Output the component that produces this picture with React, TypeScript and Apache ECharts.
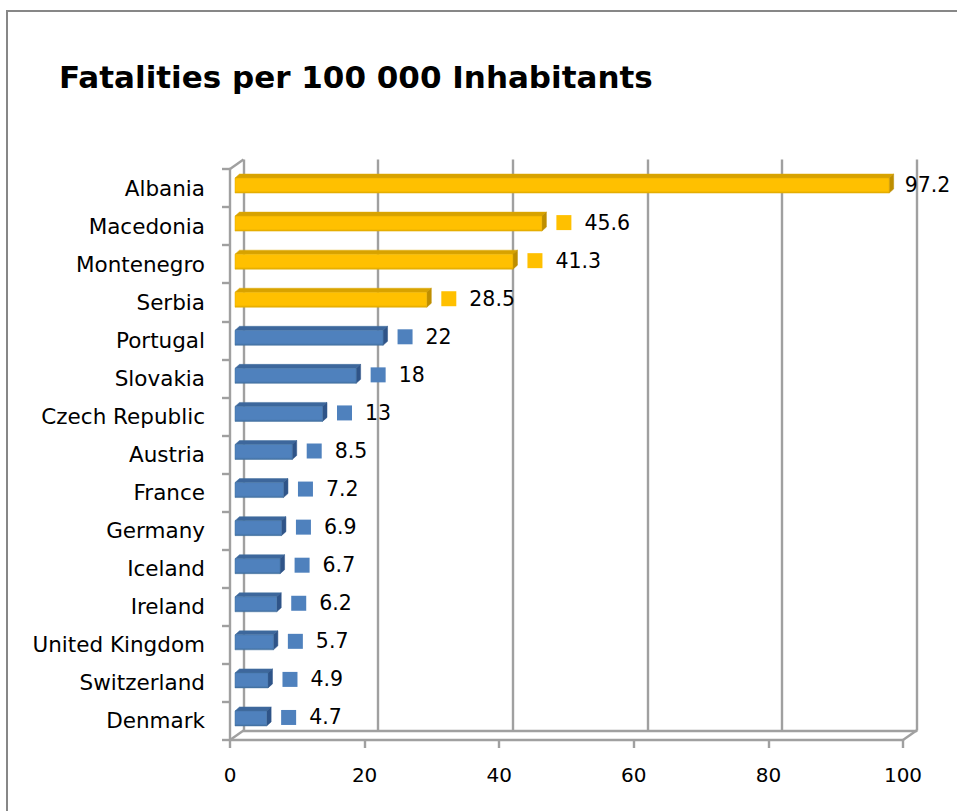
import React, { useEffect, useRef } from "react";
import * as echarts from "echarts";

// Road fatalities per 100 000 inhabitants, top to bottom
const countries = [
  "Albania",
  "Macedonia",
  "Montenegro",
  "Serbia",
  "Portugal",
  "Slovakia",
  "Czech Republic",
  "Austria",
  "France",
  "Germany",
  "Iceland",
  "Ireland",
  "United Kingdom",
  "Switzerland",
  "Denmark",
];
const fatalities = [97.2, 45.6, 41.3, 28.5, 22, 18, 13, 8.5, 7.2, 6.9, 6.7, 6.2, 5.7, 4.9, 4.7];
const regionOf = [
  "balkan", "balkan", "balkan", "balkan",
  "other", "other", "other", "other", "other", "other", "other", "other", "other", "other", "other",
];
const axisTicks = [0, 20, 40, 60, 80, 100];

const WIDTH = 957;
const HEIGHT = 811;
const FONT = "DejaVu Sans";

// front plane of the 3D plot area
const FRONT = { left: 230, right: 903, top: 169, bottom: 740 };
// depth of the walls (back plane offset)
const DEPTH_X = 13.5;
const DEPTH_Y = -9.5;
const LINE = "#A0A0A0";
const LINE_W = 2.4;

const palette: Record<string, { front: string; top: string; side: string; edge: string }> = {
  balkan: { front: "#FFC000", top: "#D7A200", side: "#BE8E00", edge: "#E0AA00" },
  other: { front: "#4F81BD", top: "#3D679C", side: "#2F5488", edge: "#42709F" },
};

export default function App() {
  const ref = useRef<HTMLDivElement>(null);

  useEffect(() => {
    if (!ref.current) return;
    const chart = echarts.init(ref.current, null, { renderer: "svg" });

    const data = fatalities.map((v, i) => [v, i, regionOf[i] === "balkan" ? 0 : 1]);

    const renderBar = (params: any, api: any) => {
      const v = api.value(0);
      const idx = api.value(1);
      const key = api.value(2) === 0 ? "balkan" : "other";
      const col = palette[key];
      const p0 = api.coord([0, idx]);
      const p1 = api.coord([v, idx]);
      // bars sit midway into the depth of the plot
      const sx = 5;
      const sy = -3.5;
      const h = 15;
      const dx = 4.5;
      const dy = 4;
      const x0 = p0[0] + sx;
      const x1 = p1[0] + sx;
      const cy = p0[1] + sy;
      const top = cy - h / 2 + 1;
      const bottom = cy + h / 2 + 1;
      const sideEnd = x1 + dx;

      const fontSize = 20.5;
      const label = String(v);
      const labelW = label.length * 0.6 * fontSize;
      const keySize = 15;
      const keyX = sideEnd + 10;
      const textWithKey = keyX + keySize + 13;
      const showKey = textWithKey + labelW <= WIDTH;
      const textX = showKey ? textWithKey : sideEnd + 11;

      const children: any[] = [
        {
          type: "polygon",
          shape: { points: [[x0, top], [x0 + dx, top - dy], [x1 + dx, top - dy], [x1, top]] },
          style: { fill: col.top, stroke: col.edge, lineWidth: 0.5 },
        },
        {
          type: "polygon",
          shape: { points: [[x1, top], [x1 + dx, top - dy], [x1 + dx, bottom - dy], [x1, bottom]] },
          style: { fill: col.side, stroke: col.side, lineWidth: 0.5 },
        },
        {
          type: "rect",
          shape: { x: x0, y: top, width: x1 - x0, height: h },
          style: {
            fill: new echarts.graphic.LinearGradient(0, 0, 0, 1, [
              { offset: 0, color: col.front },
              { offset: 0.85, color: col.front },
              { offset: 1, color: col.edge },
            ]),
            stroke: col.edge,
            lineWidth: 0.5,
          },
        },
        {
          type: "text",
          style: {
            text: label,
            x: textX,
            y: cy,
            verticalAlign: "middle",
            align: "left",
            fontFamily: FONT,
            fontSize,
            fill: "#000",
          },
        },
      ];
      if (showKey) {
        children.push({
          type: "rect",
          shape: { x: keyX, y: cy - keySize / 2, width: keySize, height: keySize },
          style: { fill: col.front },
        });
      }
      return { type: "group", children };
    };

    const backLeft = FRONT.left + DEPTH_X;
    const backRight = FRONT.right + DEPTH_X;
    const backTop = FRONT.top + DEPTH_Y;
    const backBottom = FRONT.bottom + DEPTH_Y;

    chart.setOption({
      animation: false,
      backgroundColor: "#fff",
      grid: [
        {
          left: FRONT.left,
          right: WIDTH - FRONT.right,
          top: FRONT.top,
          bottom: HEIGHT - FRONT.bottom,
        },
        {
          left: backLeft,
          right: WIDTH - backRight,
          top: backTop,
          bottom: HEIGHT - backBottom,
        },
      ],
      xAxis: [
        {
          type: "value",
          gridIndex: 0,
          min: axisTicks[0],
          max: axisTicks[axisTicks.length - 1],
          interval: axisTicks[1] - axisTicks[0],
          axisLine: { show: true, lineStyle: { color: LINE, width: LINE_W } },
          axisTick: { show: true, length: 8, lineStyle: { color: LINE, width: LINE_W } },
          splitLine: { show: false },
          axisLabel: { fontFamily: FONT, fontSize: 20, color: "#000", margin: 25 },
        },
        {
          type: "value",
          gridIndex: 1,
          min: axisTicks[0],
          max: axisTicks[axisTicks.length - 1],
          interval: axisTicks[1] - axisTicks[0],
          axisLine: { show: true, lineStyle: { color: LINE, width: LINE_W } },
          axisTick: { show: false },
          axisLabel: { show: false },
          splitLine: { show: true, lineStyle: { color: LINE, width: LINE_W } },
        },
      ],
      yAxis: [
        {
          type: "category",
          gridIndex: 0,
          data: countries,
          inverse: true,
          axisLine: { show: true, lineStyle: { color: LINE, width: LINE_W } },
          axisTick: { show: true, length: 8, lineStyle: { color: LINE, width: LINE_W } },
          axisLabel: { fontFamily: FONT, fontSize: 21.5, color: "#000", margin: 25 },
        },
        {
          type: "category",
          gridIndex: 1,
          data: countries,
          inverse: true,
          show: false,
        },
      ],
      graphic: [
        {
          type: "rect",
          shape: { x: 7, y: 11, width: 2000, height: 2000 },
          style: { fill: "none", stroke: "#878787", lineWidth: 2 },
          silent: true,
        },
        {
          type: "text",
          style: {
            text: "Fatalities per 100 000 Inhabitants",
            x: 59,
            y: 77,
            verticalAlign: "middle",
            fontFamily: FONT,
            fontWeight: "bold",
            fontSize: 31,
            fill: "#000",
          },
        },
        {
          type: "line",
          shape: { x1: FRONT.left, y1: FRONT.top, x2: backLeft, y2: backTop },
          style: { stroke: LINE, lineWidth: LINE_W },
        },
        {
          type: "line",
          shape: { x1: FRONT.left, y1: FRONT.bottom, x2: backLeft, y2: backBottom },
          style: { stroke: LINE, lineWidth: LINE_W },
        },
        {
          type: "line",
          shape: { x1: FRONT.right, y1: FRONT.bottom, x2: backRight, y2: backBottom },
          style: { stroke: LINE, lineWidth: LINE_W },
        },
      ],
      series: [
        {
          type: "custom",
          xAxisIndex: 0,
          yAxisIndex: 0,
          renderItem: renderBar,
          data,
          clip: false,
          z: 10,
        },
      ],
    });

    return () => chart.dispose();
  }, []);

  return (
    <div
      ref={ref}
      style={{ position: "fixed", left: 0, top: 0, width: WIDTH, height: HEIGHT, background: "#fff" }}
    />
  );
}
